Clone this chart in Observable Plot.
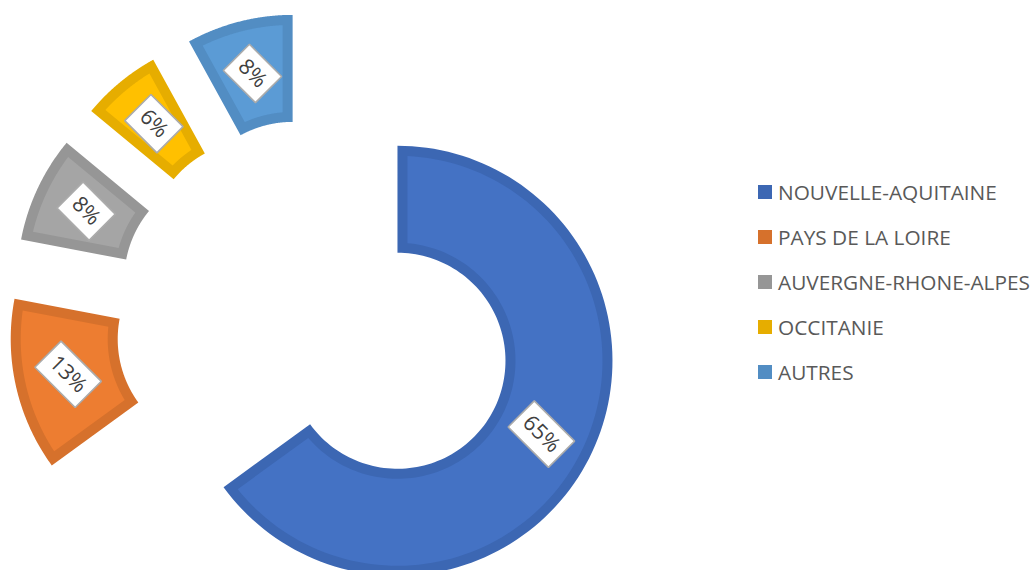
<!DOCTYPE html>
<html>
<head>
<meta charset="utf-8">
<script src="https://cdn.jsdelivr.net/npm/d3@7"></script>
<script src="https://cdn.jsdelivr.net/npm/@observablehq/plot@0.6"></script>
<style>
  html, body { margin: 0; padding: 0; background: #fff; }
  #wrap { position: relative; width: 1035px; height: 570px; overflow: hidden; font-family: "Open Sans", "Noto Sans", sans-serif; }
  #chart { position: absolute; left: 0; top: 0; }
  #legend { position: absolute; left: 758px; top: 169px; }
  .row { display: flex; align-items: center; height: 45.2px; color: #595959; font-size: 20.8px; white-space: nowrap; }
  .sw { width: 14px; height: 14px; margin-right: 6px; flex: none; }
</style>
</head>
<body>
<div id="wrap">
  <div id="chart"></div>
  <div id="legend"></div>
</div>
<script>
// ---- data ----
const regions = ["NOUVELLE-AQUITAINE", "PAYS DE LA LOIRE", "AUVERGNE-RHONE-ALPES", "OCCITANIE", "AUTRES"];
const shares = [65, 13, 8, 6, 8];
const labels = ["65%", "13%", "8%", "6%", "8%"];
const fillColors = ["#4472C4", "#ED7D31", "#A5A5A5", "#FFC000", "#5B9BD5"];
const borderColors = ["#3C67B3", "#D6712C", "#969696", "#E6AD00", "#528DC3"];

// ---- layout ----
const W = 730, H = 570;
const center = {x: 315, y: 318.5};
const explode = 92, R = 215, Ri = 108, border = 10;
const total = d3.sum(shares);

let acc = 0;
const slices = shares.map((v, i) => {
  const a0 = acc / total * 2 * Math.PI; acc += v;
  const a1 = acc / total * 2 * Math.PI;
  const mid = (a0 + a1) / 2;
  return {i, a0, a1, mid,
    ax: center.x + explode * Math.sin(mid),
    ay: center.y - explode * Math.cos(mid)};
});

function ring(s, inset, color) {
  const pts = [];
  const N = 120;
  const ro = R - inset, ri = Ri + inset;
  const po = Math.asin(inset / ro), pi = Math.asin(inset / ri);
  for (let k = 0; k <= N; k++) {
    const t = s.a0 + po + (s.a1 - s.a0 - 2 * po) * k / N;
    pts.push({x: s.ax + ro * Math.sin(t), y: s.ay - ro * Math.cos(t), key: s.i, color});
  }
  for (let k = N; k >= 0; k--) {
    const t = s.a0 + pi + (s.a1 - s.a0 - 2 * pi) * k / N;
    pts.push({x: s.ax + ri * Math.sin(t), y: s.ay - ri * Math.cos(t), key: s.i, color});
  }
  return pts;
}

const outerPts = slices.flatMap(s => ring(s, 0, borderColors[s.i]));
const innerPts = slices.flatMap(s => ring(s, border, fillColors[s.i]));

const rMid = (R + Ri) / 2;
const labelData = slices.map(s => ({
  x: s.ax + rMid * Math.sin(s.mid),
  y: s.ay - rMid * Math.cos(s.mid),
  text: labels[s.i],
  w: labels[s.i].length >= 3 ? 57 : 45.5,
  h: 37
}));
const rot = 45 * Math.PI / 180;
const ux = Math.cos(rot), uy = Math.sin(rot);
const boxPts = labelData.flatMap((d, j) => {
  const corners = [[-1, -1], [1, -1], [1, 1], [-1, 1]];
  return corners.map(([a, b]) => ({
    x: d.x + a * d.w / 2 * ux - b * d.h / 2 * uy,
    y: d.y + a * d.w / 2 * uy + b * d.h / 2 * ux,
    key: j
  }));
});

const chart = Plot.plot({
  width: W, height: H, margin: 0,
  x: {domain: [0, W], range: [0, W], axis: null},
  y: {domain: [0, H], range: [0, H], axis: null},
  color: {type: "identity"},
  style: {background: "transparent", overflow: "hidden"},
  marks: [
    Plot.line(outerPts, {x: "x", y: "y", z: "key", fill: "color", stroke: "none", curve: "linear-closed"}),
    Plot.line(innerPts, {x: "x", y: "y", z: "key", fill: "color", stroke: "none", curve: "linear-closed"}),
    Plot.line(boxPts, {x: "x", y: "y", z: "key", fill: "white", stroke: "#ABABAB", strokeWidth: 1.6, curve: "linear-closed", strokeLinejoin: "miter"}),
    Plot.text(labelData, {x: "x", y: "y", text: "text", rotate: 45, fontSize: 21.5, fill: "#404040",
      fontFamily: "'Open Sans', 'Noto Sans', sans-serif"})
  ]
});
document.getElementById("chart").appendChild(chart);

const legend = document.getElementById("legend");
regions.forEach((name, i) => {
  const row = document.createElement("div");
  row.className = "row";
  const sw = document.createElement("span");
  sw.className = "sw";
  sw.style.background = borderColors[i];
  const t = document.createElement("span");
  t.textContent = name;
  row.appendChild(sw); row.appendChild(t);
  legend.appendChild(row);
});
</script>
</body>
</html>
